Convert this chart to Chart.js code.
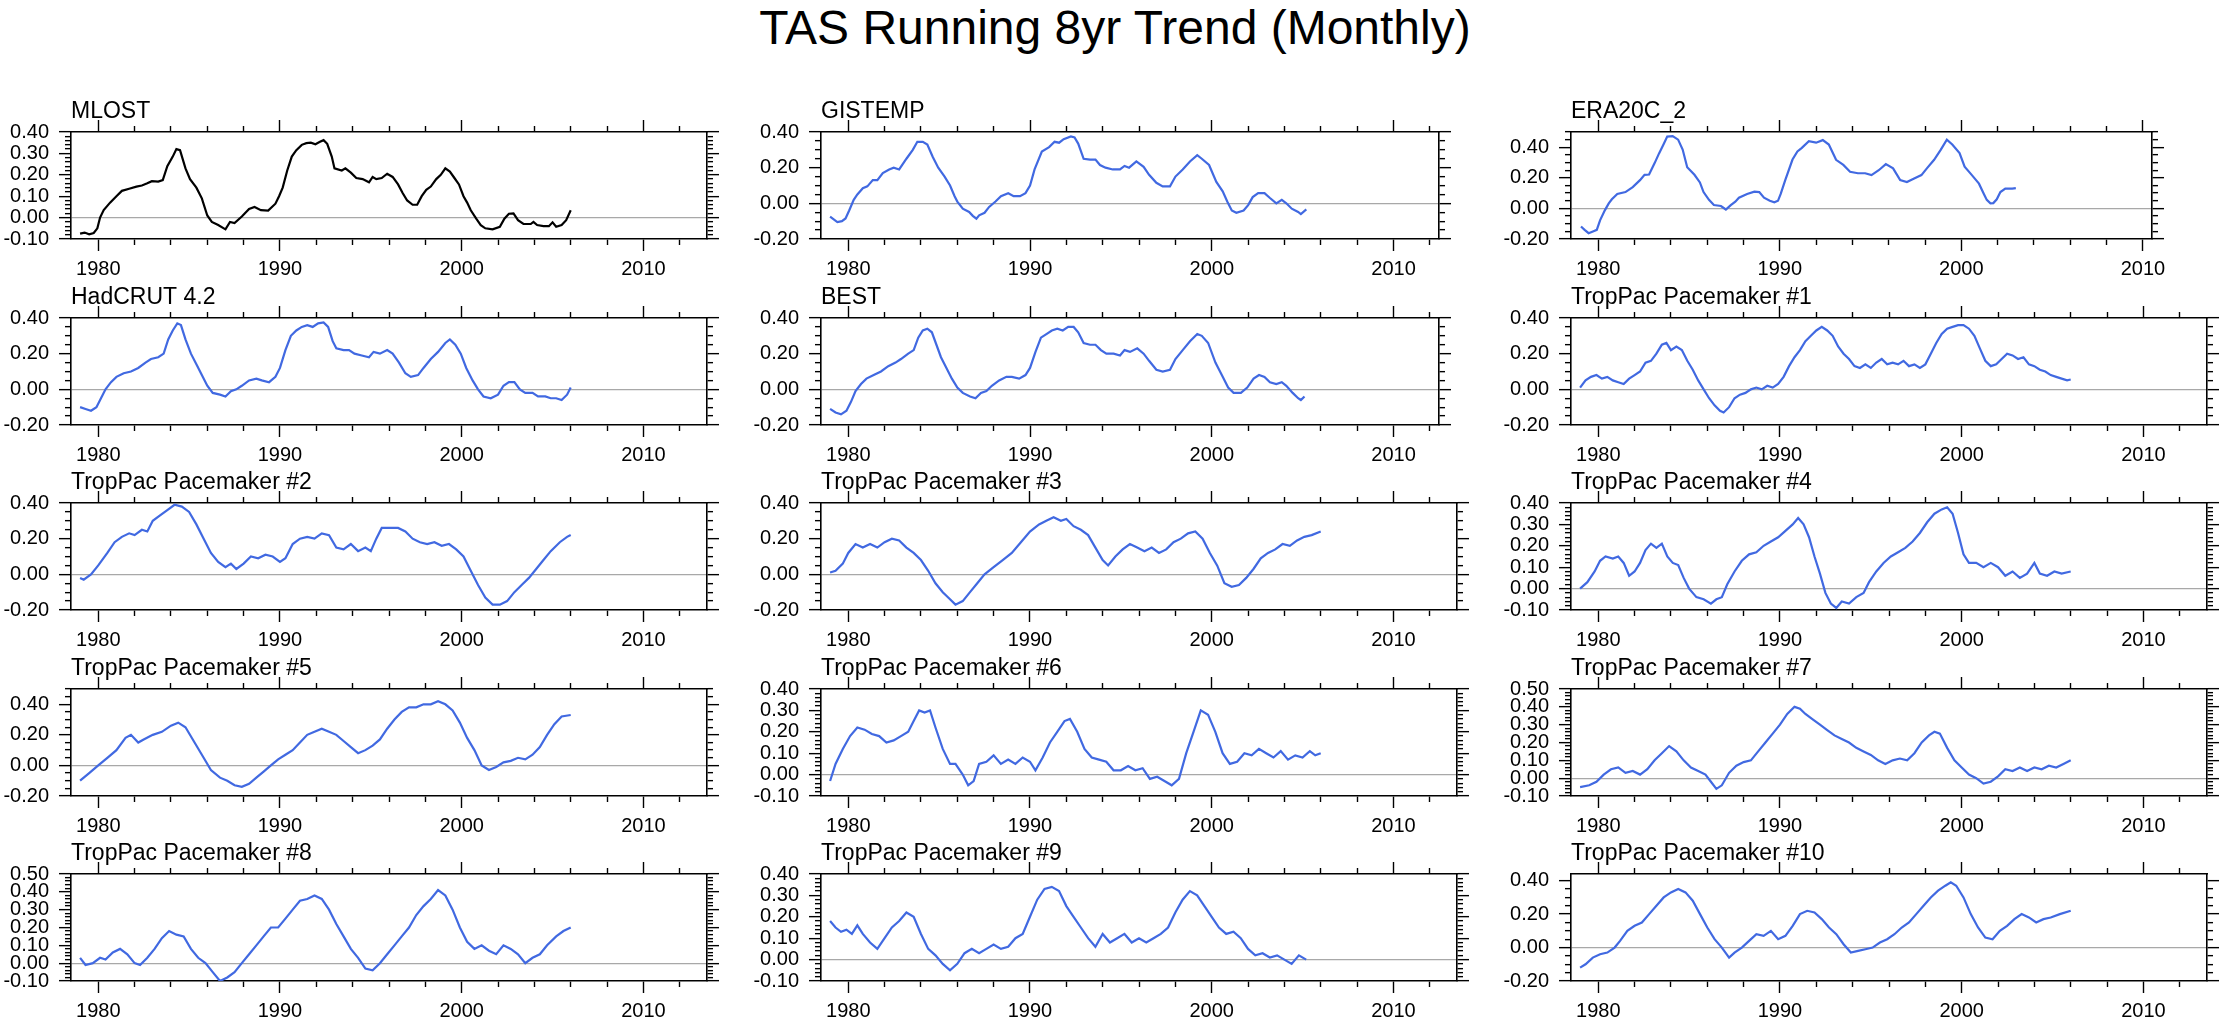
<!DOCTYPE html>
<html><head><meta charset="utf-8">
<script src="https://cdn.jsdelivr.net/npm/chart.js@4.4.0/dist/chart.umd.min.js"></script>
<style>
html,body{margin:0;padding:0;background:#fff;}
body{width:2230px;height:1024px;position:relative;overflow:hidden;font-family:'Liberation Sans',Arial,sans-serif;}
#title{position:absolute;left:0;top:0;width:2230px;text-align:center;font-size:48px;line-height:56px;color:#000;}
canvas{position:absolute;}
</style></head><body>
<div id="title">TAS Running 8yr Trend (Monthly)</div>
<script>
// ---------------- data (decimal year, trend value) ----------------
const MLOST = [[1979.0,-0.075],[1979.25,-0.07],[1979.5,-0.078],[1979.75,-0.072],[1979.95,-0.05],[1980.1,0.0],[1980.3,0.035],[1980.65,0.07],[1981.0,0.1],[1981.3,0.125],[1981.7,0.135],[1982.1,0.145],[1982.4,0.15],[1982.7,0.16],[1982.95,0.17],[1983.3,0.168],[1983.55,0.175],[1983.8,0.24],[1984.1,0.285],[1984.3,0.32],[1984.5,0.315],[1984.8,0.23],[1985.05,0.18],[1985.4,0.14],[1985.7,0.09],[1986.0,0.01],[1986.25,-0.02],[1986.6,-0.035],[1987.0,-0.055],[1987.25,-0.02],[1987.5,-0.025],[1987.9,0.005],[1988.3,0.04],[1988.6,0.05],[1988.95,0.035],[1989.35,0.033],[1989.75,0.065],[1989.95,0.1],[1990.15,0.14],[1990.4,0.22],[1990.65,0.285],[1990.9,0.315],[1991.2,0.34],[1991.45,0.348],[1991.7,0.35],[1991.95,0.343],[1992.2,0.354],[1992.4,0.362],[1992.6,0.345],[1992.85,0.285],[1993.0,0.23],[1993.4,0.22],[1993.6,0.23],[1993.9,0.21],[1994.2,0.185],[1994.55,0.18],[1994.9,0.165],[1995.1,0.19],[1995.3,0.18],[1995.6,0.185],[1995.9,0.205],[1996.2,0.19],[1996.5,0.155],[1996.75,0.115],[1997.0,0.08],[1997.3,0.06],[1997.55,0.06],[1997.8,0.1],[1998.05,0.13],[1998.3,0.145],[1998.6,0.18],[1998.85,0.2],[1999.1,0.23],[1999.35,0.215],[1999.6,0.185],[1999.85,0.155],[2000.1,0.1],[2000.3,0.07],[2000.5,0.034],[2000.8,-0.005],[2001.05,-0.035],[2001.3,-0.05],[2001.7,-0.055],[2002.1,-0.043],[2002.35,-0.005],[2002.6,0.018],[2002.85,0.02],[2003.1,-0.012],[2003.4,-0.03],[2003.8,-0.03],[2003.95,-0.02],[2004.15,-0.035],[2004.5,-0.04],[2004.8,-0.04],[2005.0,-0.022],[2005.2,-0.043],[2005.5,-0.035],[2005.75,-0.012],[2006.0,0.034]];
const GISTEMP = [[1979.0,-0.075],[1979.2,-0.09],[1979.4,-0.105],[1979.65,-0.1],[1979.85,-0.085],[1980.05,-0.04],[1980.3,0.02],[1980.5,0.05],[1980.8,0.085],[1981.05,0.095],[1981.35,0.13],[1981.6,0.13],[1981.9,0.17],[1982.25,0.19],[1982.5,0.2],[1982.8,0.19],[1983.2,0.25],[1983.55,0.3],[1983.8,0.345],[1984.1,0.345],[1984.35,0.33],[1984.65,0.26],[1984.95,0.2],[1985.3,0.15],[1985.6,0.1],[1985.85,0.04],[1986.0,0.01],[1986.3,-0.03],[1986.65,-0.048],[1986.85,-0.07],[1987.05,-0.086],[1987.2,-0.067],[1987.5,-0.053],[1987.75,-0.02],[1988.1,0.01],[1988.4,0.04],[1988.8,0.057],[1989.1,0.04],[1989.45,0.04],[1989.75,0.057],[1990.0,0.1],[1990.25,0.19],[1990.65,0.29],[1991.05,0.315],[1991.35,0.345],[1991.6,0.34],[1991.85,0.36],[1992.25,0.375],[1992.45,0.37],[1992.65,0.335],[1992.95,0.25],[1993.3,0.245],[1993.6,0.245],[1993.85,0.215],[1994.15,0.2],[1994.55,0.19],[1994.95,0.19],[1995.2,0.21],[1995.45,0.2],[1995.85,0.235],[1996.25,0.205],[1996.55,0.16],[1996.95,0.115],[1997.3,0.095],[1997.7,0.095],[1998.0,0.15],[1998.4,0.19],[1998.8,0.235],[1999.2,0.27],[1999.45,0.25],[1999.85,0.215],[2000.25,0.12],[2000.6,0.067],[2000.85,0.01],[2001.1,-0.04],[2001.35,-0.053],[2001.75,-0.04],[2002.0,-0.01],[2002.25,0.035],[2002.55,0.057],[2002.9,0.057],[2003.2,0.03],[2003.55,0.0],[2003.85,0.02],[2004.1,0.0],[2004.4,-0.03],[2004.75,-0.048],[2004.9,-0.06],[2005.2,-0.034]];
const ERA20C_2 = [[1979.05,-0.118],[1979.25,-0.14],[1979.47,-0.162],[1979.74,-0.149],[1979.92,-0.14],[1980.1,-0.078],[1980.37,-0.011],[1980.58,0.033],[1980.75,0.06],[1981.05,0.095],[1981.5,0.107],[1981.9,0.14],[1982.3,0.185],[1982.55,0.22],[1982.8,0.222],[1983.1,0.295],[1983.35,0.36],[1983.6,0.42],[1983.8,0.47],[1984.1,0.473],[1984.4,0.45],[1984.65,0.385],[1984.9,0.27],[1985.3,0.22],[1985.6,0.17],[1985.8,0.107],[1986.1,0.056],[1986.37,0.022],[1986.76,0.016],[1987.03,-0.007],[1987.3,0.022],[1987.55,0.044],[1987.75,0.07],[1988.2,0.095],[1988.6,0.11],[1988.87,0.107],[1989.13,0.07],[1989.45,0.05],[1989.7,0.04],[1989.9,0.05],[1990.05,0.095],[1990.3,0.185],[1990.7,0.32],[1990.97,0.373],[1991.2,0.395],[1991.6,0.44],[1992.0,0.43],[1992.37,0.447],[1992.7,0.418],[1993.1,0.318],[1993.5,0.285],[1993.87,0.24],[1994.3,0.23],[1994.7,0.23],[1995.05,0.218],[1995.45,0.25],[1995.84,0.29],[1996.24,0.262],[1996.63,0.185],[1997.0,0.173],[1997.4,0.196],[1997.8,0.218],[1998.1,0.262],[1998.5,0.318],[1998.87,0.385],[1999.2,0.45],[1999.5,0.418],[1999.9,0.362],[2000.18,0.273],[2000.58,0.218],[2000.97,0.162],[2001.24,0.095],[2001.4,0.056],[2001.6,0.033],[2001.76,0.035],[2001.95,0.06],[2002.15,0.107],[2002.42,0.13],[2002.8,0.13],[2003.0,0.133]];
const HADCRUT42 = [[1979.0,-0.1],[1979.3,-0.11],[1979.6,-0.12],[1979.9,-0.1],[1980.15,-0.05],[1980.4,0.0],[1980.7,0.04],[1981.0,0.07],[1981.4,0.09],[1981.8,0.1],[1982.2,0.12],[1982.6,0.15],[1982.9,0.17],[1983.3,0.18],[1983.6,0.2],[1983.85,0.28],[1984.1,0.33],[1984.35,0.37],[1984.55,0.36],[1984.8,0.28],[1985.1,0.2],[1985.4,0.14],[1985.7,0.08],[1986.0,0.02],[1986.3,-0.02],[1986.7,-0.03],[1987.0,-0.04],[1987.3,-0.01],[1987.6,0.0],[1987.9,0.02],[1988.3,0.05],[1988.7,0.06],[1989.0,0.05],[1989.4,0.04],[1989.75,0.07],[1990.0,0.12],[1990.3,0.22],[1990.6,0.3],[1990.9,0.33],[1991.2,0.35],[1991.5,0.36],[1991.8,0.35],[1992.1,0.37],[1992.4,0.375],[1992.65,0.35],[1992.9,0.27],[1993.1,0.23],[1993.5,0.22],[1993.8,0.22],[1994.1,0.2],[1994.5,0.19],[1994.9,0.18],[1995.15,0.21],[1995.5,0.2],[1995.9,0.22],[1996.2,0.2],[1996.55,0.15],[1996.9,0.09],[1997.2,0.07],[1997.6,0.08],[1997.9,0.12],[1998.3,0.17],[1998.7,0.21],[1999.1,0.26],[1999.35,0.28],[1999.65,0.25],[1999.95,0.2],[2000.25,0.12],[2000.6,0.05],[2000.9,0.0],[2001.2,-0.04],[2001.6,-0.05],[2002.0,-0.03],[2002.3,0.02],[2002.6,0.04],[2002.9,0.04],[2003.2,0.0],[2003.5,-0.02],[2003.9,-0.02],[2004.2,-0.04],[2004.6,-0.04],[2004.9,-0.05],[2005.2,-0.05],[2005.5,-0.06],[2005.8,-0.03],[2006.0,0.01]];
const BEST = [[1979.0,-0.11],[1979.3,-0.13],[1979.6,-0.14],[1979.9,-0.12],[1980.15,-0.07],[1980.4,-0.01],[1980.7,0.03],[1981.0,0.06],[1981.4,0.08],[1981.8,0.1],[1982.2,0.13],[1982.6,0.15],[1982.9,0.17],[1983.3,0.2],[1983.6,0.22],[1983.85,0.29],[1984.1,0.33],[1984.35,0.34],[1984.6,0.32],[1984.85,0.25],[1985.1,0.18],[1985.4,0.12],[1985.7,0.06],[1986.0,0.01],[1986.3,-0.02],[1986.7,-0.04],[1987.0,-0.05],[1987.3,-0.02],[1987.6,-0.01],[1987.9,0.02],[1988.3,0.05],[1988.7,0.07],[1989.0,0.07],[1989.4,0.06],[1989.75,0.08],[1990.0,0.12],[1990.3,0.21],[1990.6,0.29],[1990.9,0.31],[1991.2,0.33],[1991.5,0.34],[1991.8,0.33],[1992.1,0.35],[1992.4,0.35],[1992.65,0.32],[1992.95,0.26],[1993.3,0.25],[1993.6,0.25],[1993.9,0.22],[1994.2,0.2],[1994.6,0.2],[1994.95,0.19],[1995.2,0.22],[1995.5,0.21],[1995.9,0.23],[1996.25,0.2],[1996.55,0.16],[1996.95,0.11],[1997.3,0.1],[1997.7,0.11],[1998.0,0.17],[1998.4,0.22],[1998.8,0.27],[1999.2,0.31],[1999.45,0.3],[1999.8,0.26],[2000.2,0.15],[2000.6,0.07],[2000.9,0.01],[2001.2,-0.02],[2001.6,-0.02],[2001.95,0.01],[2002.3,0.06],[2002.6,0.08],[2002.9,0.07],[2003.2,0.04],[2003.55,0.03],[2003.85,0.04],[2004.1,0.02],[2004.45,-0.02],[2004.75,-0.05],[2004.9,-0.06],[2005.1,-0.04]];
const TROPPAC1 = [[1979.0,0.01],[1979.3,0.05],[1979.6,0.07],[1979.9,0.08],[1980.2,0.06],[1980.5,0.07],[1980.8,0.05],[1981.1,0.04],[1981.4,0.03],[1981.7,0.06],[1982.0,0.08],[1982.3,0.1],[1982.6,0.15],[1982.9,0.16],[1983.2,0.2],[1983.5,0.25],[1983.75,0.26],[1984.0,0.22],[1984.3,0.24],[1984.6,0.22],[1984.9,0.16],[1985.2,0.11],[1985.5,0.05],[1985.8,0.0],[1986.1,-0.05],[1986.4,-0.09],[1986.7,-0.12],[1986.9,-0.13],[1987.2,-0.1],[1987.5,-0.05],[1987.8,-0.03],[1988.1,-0.02],[1988.4,0.0],[1988.7,0.01],[1989.0,0.0],[1989.3,0.02],[1989.6,0.01],[1989.9,0.03],[1990.2,0.07],[1990.5,0.13],[1990.8,0.18],[1991.1,0.22],[1991.4,0.27],[1991.7,0.3],[1992.0,0.33],[1992.3,0.35],[1992.6,0.33],[1992.9,0.3],[1993.2,0.24],[1993.5,0.2],[1993.8,0.17],[1994.1,0.13],[1994.4,0.12],[1994.7,0.14],[1995.0,0.12],[1995.3,0.15],[1995.6,0.17],[1995.9,0.14],[1996.2,0.15],[1996.5,0.14],[1996.8,0.16],[1997.1,0.13],[1997.4,0.14],[1997.7,0.12],[1998.0,0.14],[1998.3,0.2],[1998.6,0.26],[1998.9,0.31],[1999.2,0.34],[1999.5,0.35],[1999.8,0.36],[2000.1,0.36],[2000.4,0.34],[2000.7,0.3],[2001.0,0.23],[2001.3,0.16],[2001.6,0.13],[2001.9,0.14],[2002.2,0.17],[2002.5,0.2],[2002.8,0.19],[2003.1,0.17],[2003.4,0.18],[2003.7,0.14],[2004.0,0.13],[2004.3,0.11],[2004.6,0.1],[2004.9,0.08],[2005.2,0.07],[2005.5,0.06],[2005.8,0.05],[2006.0,0.055]];
const TROPPAC2 = [[1979.0,-0.02],[1979.2,-0.03],[1979.6,0.0],[1980.0,0.05],[1980.5,0.12],[1980.9,0.18],[1981.3,0.21],[1981.7,0.23],[1982.0,0.22],[1982.4,0.25],[1982.7,0.24],[1983.0,0.3],[1983.4,0.33],[1983.8,0.36],[1984.2,0.39],[1984.6,0.38],[1985.0,0.35],[1985.4,0.28],[1985.8,0.2],[1986.2,0.12],[1986.6,0.07],[1987.0,0.04],[1987.3,0.06],[1987.6,0.03],[1988.0,0.06],[1988.4,0.1],[1988.8,0.09],[1989.2,0.11],[1989.6,0.1],[1990.0,0.07],[1990.3,0.09],[1990.7,0.17],[1991.1,0.2],[1991.5,0.21],[1991.9,0.2],[1992.3,0.23],[1992.7,0.22],[1993.1,0.15],[1993.5,0.14],[1993.9,0.17],[1994.3,0.13],[1994.7,0.15],[1995.0,0.13],[1995.3,0.2],[1995.6,0.26],[1996.0,0.26],[1996.5,0.26],[1996.9,0.24],[1997.3,0.2],[1997.7,0.18],[1998.1,0.17],[1998.5,0.18],[1998.9,0.16],[1999.3,0.17],[1999.7,0.14],[2000.1,0.1],[2000.5,0.02],[2000.9,-0.06],[2001.3,-0.13],[2001.7,-0.17],[2002.1,-0.17],[2002.5,-0.15],[2002.9,-0.1],[2003.3,-0.06],[2003.7,-0.02],[2004.1,0.03],[2004.5,0.08],[2004.9,0.13],[2005.4,0.18],[2005.8,0.21],[2006.0,0.22]];
const TROPPAC3 = [[1979.0,0.01],[1979.3,0.02],[1979.7,0.06],[1980.0,0.12],[1980.4,0.17],[1980.8,0.15],[1981.2,0.17],[1981.6,0.15],[1982.0,0.18],[1982.4,0.2],[1982.8,0.19],[1983.2,0.15],[1983.6,0.12],[1984.0,0.08],[1984.4,0.02],[1984.8,-0.05],[1985.2,-0.1],[1985.6,-0.14],[1985.9,-0.17],[1986.3,-0.15],[1986.7,-0.1],[1987.1,-0.05],[1987.5,0.0],[1988.0,0.04],[1988.5,0.08],[1989.0,0.12],[1989.5,0.18],[1990.0,0.24],[1990.5,0.28],[1990.9,0.3],[1991.3,0.32],[1991.7,0.3],[1992.0,0.31],[1992.4,0.27],[1992.8,0.25],[1993.2,0.22],[1993.6,0.15],[1994.0,0.08],[1994.3,0.05],[1994.7,0.1],[1995.1,0.14],[1995.5,0.17],[1995.9,0.15],[1996.3,0.13],[1996.7,0.15],[1997.1,0.12],[1997.5,0.14],[1997.9,0.18],[1998.3,0.2],[1998.7,0.23],[1999.1,0.24],[1999.5,0.2],[1999.9,0.12],[2000.3,0.05],[2000.7,-0.05],[2001.1,-0.07],[2001.5,-0.06],[2001.9,-0.02],[2002.3,0.03],[2002.7,0.09],[2003.1,0.12],[2003.5,0.14],[2003.9,0.17],[2004.3,0.16],[2004.7,0.19],[2005.1,0.21],[2005.5,0.22],[2006.0,0.24]];
const TROPPAC4 = [[1979.0,0.0],[1979.4,0.03],[1979.8,0.08],[1980.1,0.13],[1980.4,0.15],[1980.8,0.14],[1981.1,0.15],[1981.4,0.12],[1981.7,0.06],[1982.0,0.08],[1982.3,0.12],[1982.6,0.18],[1982.9,0.21],[1983.2,0.19],[1983.5,0.21],[1983.8,0.15],[1984.1,0.12],[1984.4,0.11],[1984.7,0.05],[1985.0,0.0],[1985.4,-0.04],[1985.8,-0.05],[1986.2,-0.07],[1986.5,-0.05],[1986.8,-0.04],[1987.1,0.02],[1987.5,0.08],[1987.9,0.13],[1988.3,0.16],[1988.7,0.17],[1989.1,0.2],[1989.5,0.22],[1989.9,0.24],[1990.3,0.27],[1990.7,0.3],[1991.0,0.33],[1991.3,0.3],[1991.6,0.24],[1991.9,0.15],[1992.2,0.07],[1992.5,-0.02],[1992.8,-0.07],[1993.1,-0.09],[1993.4,-0.06],[1993.8,-0.07],[1994.2,-0.04],[1994.6,-0.02],[1994.9,0.03],[1995.3,0.08],[1995.7,0.12],[1996.1,0.15],[1996.5,0.17],[1996.9,0.19],[1997.3,0.22],[1997.7,0.26],[1998.1,0.31],[1998.5,0.35],[1998.9,0.37],[1999.2,0.38],[1999.5,0.35],[1999.8,0.26],[2000.1,0.16],[2000.4,0.12],[2000.8,0.12],[2001.2,0.1],[2001.6,0.12],[2002.0,0.1],[2002.4,0.06],[2002.8,0.08],[2003.2,0.05],[2003.6,0.07],[2004.0,0.12],[2004.3,0.07],[2004.7,0.06],[2005.1,0.08],[2005.5,0.07],[2006.0,0.08]];
const TROPPAC5 = [[1979.0,-0.1],[1979.5,-0.05],[1980.0,0.0],[1980.5,0.05],[1981.0,0.1],[1981.5,0.18],[1981.8,0.2],[1982.2,0.15],[1982.5,0.17],[1983.0,0.2],[1983.5,0.22],[1984.0,0.26],[1984.4,0.28],[1984.8,0.25],[1985.3,0.15],[1985.8,0.05],[1986.2,-0.03],[1986.7,-0.08],[1987.1,-0.1],[1987.5,-0.13],[1987.9,-0.14],[1988.3,-0.12],[1988.7,-0.08],[1989.1,-0.04],[1989.5,0.0],[1989.9,0.04],[1990.3,0.07],[1990.7,0.1],[1991.1,0.15],[1991.5,0.2],[1991.9,0.22],[1992.3,0.24],[1992.7,0.22],[1993.1,0.2],[1993.5,0.16],[1993.9,0.12],[1994.3,0.08],[1994.7,0.1],[1995.1,0.13],[1995.5,0.17],[1995.9,0.24],[1996.3,0.3],[1996.7,0.35],[1997.1,0.38],[1997.5,0.38],[1997.9,0.4],[1998.3,0.4],[1998.7,0.42],[1999.1,0.4],[1999.5,0.36],[1999.9,0.28],[2000.3,0.18],[2000.7,0.1],[2001.1,0.0],[2001.5,-0.03],[2001.9,-0.01],[2002.3,0.02],[2002.7,0.03],[2003.1,0.05],[2003.5,0.04],[2003.9,0.07],[2004.3,0.12],[2004.7,0.2],[2005.1,0.27],[2005.5,0.32],[2006.0,0.33]];
const TROPPAC6 = [[1979.0,-0.03],[1979.3,0.05],[1979.7,0.12],[1980.1,0.18],[1980.5,0.22],[1980.9,0.21],[1981.3,0.19],[1981.7,0.18],[1982.1,0.15],[1982.5,0.16],[1982.9,0.18],[1983.3,0.2],[1983.6,0.25],[1983.9,0.3],[1984.2,0.29],[1984.5,0.3],[1984.8,0.22],[1985.2,0.12],[1985.6,0.05],[1985.9,0.05],[1986.3,0.0],[1986.6,-0.05],[1986.9,-0.03],[1987.2,0.05],[1987.6,0.06],[1988.0,0.09],[1988.4,0.05],[1988.8,0.07],[1989.2,0.05],[1989.6,0.08],[1990.0,0.06],[1990.3,0.02],[1990.7,0.08],[1991.1,0.15],[1991.5,0.2],[1991.9,0.25],[1992.2,0.26],[1992.6,0.2],[1993.0,0.12],[1993.4,0.08],[1993.8,0.07],[1994.2,0.06],[1994.6,0.02],[1995.0,0.02],[1995.4,0.04],[1995.8,0.02],[1996.2,0.03],[1996.6,-0.02],[1997.0,-0.01],[1997.4,-0.03],[1997.8,-0.05],[1998.2,-0.02],[1998.6,0.1],[1999.0,0.2],[1999.4,0.3],[1999.8,0.28],[2000.2,0.2],[2000.6,0.1],[2001.0,0.05],[2001.4,0.06],[2001.8,0.1],[2002.2,0.09],[2002.6,0.12],[2003.0,0.1],[2003.4,0.08],[2003.8,0.11],[2004.2,0.07],[2004.6,0.09],[2005.0,0.08],[2005.4,0.11],[2005.7,0.09],[2006.0,0.1]];
const TROPPAC7 = [[1979.0,-0.05],[1979.5,-0.04],[1979.9,-0.02],[1980.3,0.02],[1980.7,0.05],[1981.1,0.06],[1981.5,0.03],[1981.9,0.04],[1982.3,0.02],[1982.7,0.05],[1983.1,0.1],[1983.5,0.14],[1983.9,0.18],[1984.3,0.15],[1984.7,0.1],[1985.1,0.06],[1985.5,0.04],[1985.9,0.02],[1986.2,-0.02],[1986.5,-0.06],[1986.8,-0.04],[1987.2,0.03],[1987.6,0.07],[1988.0,0.09],[1988.4,0.1],[1988.8,0.15],[1989.2,0.2],[1989.6,0.25],[1990.0,0.3],[1990.4,0.36],[1990.8,0.4],[1991.1,0.39],[1991.4,0.36],[1991.8,0.33],[1992.2,0.3],[1992.6,0.27],[1993.0,0.24],[1993.4,0.22],[1993.8,0.2],[1994.2,0.17],[1994.6,0.15],[1995.0,0.13],[1995.4,0.1],[1995.8,0.08],[1996.2,0.1],[1996.6,0.11],[1997.0,0.1],[1997.4,0.14],[1997.8,0.2],[1998.2,0.24],[1998.5,0.26],[1998.8,0.25],[1999.2,0.17],[1999.6,0.1],[2000.0,0.06],[2000.4,0.02],[2000.8,0.0],[2001.2,-0.03],[2001.6,-0.02],[2002.0,0.01],[2002.4,0.05],[2002.8,0.04],[2003.2,0.06],[2003.6,0.04],[2004.0,0.06],[2004.4,0.05],[2004.8,0.07],[2005.2,0.06],[2005.6,0.08],[2006.0,0.1]];
const TROPPAC8 = [[1979.0,0.03],[1979.3,-0.01],[1979.7,0.0],[1980.1,0.03],[1980.4,0.02],[1980.8,0.06],[1981.2,0.08],[1981.6,0.05],[1982.0,0.0],[1982.3,-0.01],[1982.7,0.03],[1983.1,0.08],[1983.5,0.14],[1983.9,0.18],[1984.3,0.16],[1984.7,0.15],[1985.1,0.08],[1985.5,0.03],[1985.9,0.0],[1986.3,-0.05],[1986.7,-0.1],[1987.1,-0.08],[1987.5,-0.05],[1987.9,0.0],[1988.3,0.05],[1988.7,0.1],[1989.1,0.15],[1989.5,0.2],[1989.9,0.2],[1990.3,0.25],[1990.7,0.3],[1991.1,0.35],[1991.5,0.36],[1991.9,0.38],[1992.3,0.36],[1992.7,0.3],[1993.1,0.22],[1993.5,0.15],[1993.9,0.08],[1994.3,0.03],[1994.7,-0.03],[1995.1,-0.04],[1995.5,0.0],[1995.9,0.05],[1996.3,0.1],[1996.7,0.15],[1997.1,0.2],[1997.5,0.27],[1997.9,0.32],[1998.3,0.36],[1998.7,0.41],[1999.1,0.38],[1999.5,0.3],[1999.9,0.2],[2000.3,0.12],[2000.7,0.08],[2001.1,0.1],[2001.5,0.07],[2001.9,0.05],[2002.3,0.1],[2002.7,0.08],[2003.1,0.05],[2003.5,0.0],[2003.9,0.03],[2004.3,0.05],[2004.7,0.1],[2005.2,0.15],[2005.6,0.18],[2006.0,0.2]];
const TROPPAC9 = [[1979.0,0.18],[1979.3,0.15],[1979.6,0.13],[1979.9,0.14],[1980.2,0.12],[1980.5,0.16],[1980.8,0.12],[1981.2,0.08],[1981.6,0.05],[1982.0,0.1],[1982.4,0.15],[1982.8,0.18],[1983.2,0.22],[1983.6,0.2],[1984.0,0.12],[1984.4,0.05],[1984.8,0.02],[1985.2,-0.02],[1985.6,-0.05],[1986.0,-0.02],[1986.4,0.03],[1986.8,0.05],[1987.2,0.03],[1987.6,0.05],[1988.0,0.07],[1988.4,0.05],[1988.8,0.06],[1989.2,0.1],[1989.6,0.12],[1990.0,0.2],[1990.4,0.28],[1990.8,0.33],[1991.2,0.34],[1991.6,0.32],[1992.0,0.25],[1992.4,0.2],[1992.8,0.15],[1993.2,0.1],[1993.6,0.06],[1994.0,0.12],[1994.4,0.08],[1994.8,0.1],[1995.2,0.12],[1995.6,0.08],[1996.0,0.1],[1996.4,0.08],[1996.8,0.1],[1997.2,0.12],[1997.6,0.15],[1998.0,0.22],[1998.4,0.28],[1998.8,0.32],[1999.2,0.3],[1999.6,0.25],[2000.0,0.2],[2000.4,0.15],[2000.8,0.12],[2001.2,0.13],[2001.6,0.1],[2002.0,0.05],[2002.4,0.02],[2002.8,0.03],[2003.2,0.01],[2003.6,0.02],[2004.0,0.0],[2004.4,-0.02],[2004.8,0.02],[2005.2,0.0]];
const TROPPAC10 = [[1979.0,-0.12],[1979.3,-0.1],[1979.7,-0.06],[1980.1,-0.04],[1980.5,-0.03],[1980.9,0.0],[1981.2,0.04],[1981.6,0.1],[1982.0,0.13],[1982.4,0.15],[1982.8,0.2],[1983.2,0.25],[1983.6,0.3],[1984.0,0.33],[1984.4,0.35],[1984.8,0.33],[1985.2,0.28],[1985.6,0.2],[1986.0,0.12],[1986.4,0.05],[1986.8,0.0],[1987.2,-0.06],[1987.5,-0.03],[1987.9,0.0],[1988.3,0.04],[1988.7,0.08],[1989.1,0.07],[1989.5,0.1],[1989.9,0.05],[1990.3,0.07],[1990.7,0.13],[1991.1,0.2],[1991.5,0.22],[1991.9,0.21],[1992.3,0.17],[1992.7,0.12],[1993.1,0.08],[1993.5,0.02],[1993.9,-0.03],[1994.3,-0.02],[1994.7,-0.01],[1995.1,0.0],[1995.5,0.03],[1995.9,0.05],[1996.3,0.08],[1996.7,0.12],[1997.1,0.15],[1997.5,0.2],[1997.9,0.25],[1998.3,0.3],[1998.7,0.34],[1999.1,0.37],[1999.4,0.39],[1999.7,0.37],[2000.1,0.3],[2000.5,0.2],[2000.9,0.12],[2001.3,0.06],[2001.7,0.05],[2002.1,0.1],[2002.5,0.13],[2002.9,0.17],[2003.3,0.2],[2003.7,0.18],[2004.1,0.15],[2004.5,0.17],[2004.9,0.18],[2005.4,0.2],[2006.0,0.22]];

// ---------------- panel table ----------------
const ROYAL = '#4169e1';
const panels = [
  {label:'MLOST', data:MLOST, color:'#000000', ymin:-0.1, ymax:0.4, major:0.1, minor:0.02, xmax:2013.5},
  {label:'GISTEMP', data:GISTEMP, color:ROYAL, ymin:-0.2, ymax:0.4, major:0.2, minor:0.05, xmax:2012.5},
  {label:'ERA20C_2', data:ERA20C_2, color:ROYAL, ymin:-0.2, ymax:0.5, major:0.2, minor:0.05, xmax:2010.5},
  {label:'HadCRUT 4.2', data:HADCRUT42, color:ROYAL, ymin:-0.2, ymax:0.4, major:0.2, minor:0.05, xmax:2013.5},
  {label:'BEST', data:BEST, color:ROYAL, ymin:-0.2, ymax:0.4, major:0.2, minor:0.05, xmax:2012.5},
  {label:'TropPac Pacemaker #1', data:TROPPAC1, color:ROYAL, ymin:-0.2, ymax:0.4, major:0.2, minor:0.05, xmax:2013.5},
  {label:'TropPac Pacemaker #2', data:TROPPAC2, color:ROYAL, ymin:-0.2, ymax:0.4, major:0.2, minor:0.05, xmax:2013.5},
  {label:'TropPac Pacemaker #3', data:TROPPAC3, color:ROYAL, ymin:-0.2, ymax:0.4, major:0.2, minor:0.05, xmax:2013.5},
  {label:'TropPac Pacemaker #4', data:TROPPAC4, color:ROYAL, ymin:-0.1, ymax:0.4, major:0.1, minor:0.02, xmax:2013.5},
  {label:'TropPac Pacemaker #5', data:TROPPAC5, color:ROYAL, ymin:-0.2, ymax:0.5, major:0.2, minor:0.05, xmax:2013.5},
  {label:'TropPac Pacemaker #6', data:TROPPAC6, color:ROYAL, ymin:-0.1, ymax:0.4, major:0.1, minor:0.02, xmax:2013.5},
  {label:'TropPac Pacemaker #7', data:TROPPAC7, color:ROYAL, ymin:-0.1, ymax:0.5, major:0.1, minor:0.02, xmax:2013.5},
  {label:'TropPac Pacemaker #8', data:TROPPAC8, color:ROYAL, ymin:-0.1, ymax:0.5, major:0.1, minor:0.02, xmax:2013.5},
  {label:'TropPac Pacemaker #9', data:TROPPAC9, color:ROYAL, ymin:-0.1, ymax:0.4, major:0.1, minor:0.02, xmax:2013.5},
  {label:'TropPac Pacemaker #10', data:TROPPAC10, color:ROYAL, ymin:-0.2, ymax:0.44, major:0.2, minor:0.05, xmax:2013.5}
];

// ---------------- layout ----------------
const XMIN = 1978.5, PX_PER_YEAR = 18.17;
const COL_LEFT = [71, 821, 1571];
const ROW_TOP0 = 132, ROW_STEP = 185.6, BOX_H = 107;
const PAD_L = 70, PAD_R = 40, PAD_T = 40, PAD_B = 50;
const LABEL_SIZE = 23, LABEL_LH = 0.75;

Chart.defaults.font.family = "'Liberation Sans', Arial, Helvetica, sans-serif";
Chart.defaults.color = '#000';

function tickRange(min, max, step) {
  const out = [];
  const n0 = Math.ceil(min / step - 1e-6), n1 = Math.floor(max / step + 1e-6);
  for (let n = n0; n <= n1; n++) out.push({value: +(n * step).toFixed(6)});
  return out;
}

const TICK_W = 1.4, BORDER_W = 1.6;
function xAxis(p, pos, weight, step, labels, fitH, border) {
  return {
    type: 'linear', position: pos, min: XMIN, max: p.xmax, weight: weight,
    afterBuildTicks: s => { s.ticks = tickRange(1980, p.xmax, step); },
    afterFit: s => { s.height = fitH; },
    ticks: {display: labels, padding: 6, font: {size: 20}, color: '#000', maxRotation: 0, autoSkip: false,
            callback: v => String(Math.round(v))},
    grid: {display: true, drawOnChartArea: false, drawTicks: true, tickLength: 6, color: '#000', tickColor: '#000', tickWidth: TICK_W},
    border: {display: border, color: '#000', width: BORDER_W}
  };
}
function yAxis(p, pos, weight, step, labels, fitW, border, zeroLine) {
  return {
    type: 'linear', position: pos, min: p.ymin, max: p.ymax, weight: weight,
    afterBuildTicks: s => { s.ticks = tickRange(p.ymin, p.ymax, step); },
    afterFit: s => { s.width = fitW; },
    ticks: {display: labels, padding: 10, font: {size: 20}, color: '#000', autoSkip: false,
            callback: v => Number(v).toFixed(2)},
    grid: {display: true, drawOnChartArea: zeroLine, drawTicks: true, tickLength: 6,
           color: ctx => (zeroLine && ctx.tick && Math.abs(ctx.tick.value) < 1e-9) ? '#a8a8a8' : 'rgba(0,0,0,0)',
           lineWidth: 1.3, tickColor: '#000', tickWidth: TICK_W},
    border: {display: border, color: '#000', width: BORDER_W}
  };
}

panels.forEach((p, i) => {
  const r = Math.floor(i / 3), c = i % 3;
  const boxW = Math.round((p.xmax - XMIN) * PX_PER_YEAR);
  const T = Math.round(ROW_TOP0 + r * ROW_STEP);
  const L = COL_LEFT[c];
  const W = PAD_L + boxW + PAD_R, H = PAD_T + BOX_H + PAD_B;
  const cv = document.createElement('canvas');
  cv.width = W; cv.height = H;
  cv.style.left = (L - PAD_L) + 'px'; cv.style.top = (T - PAD_T) + 'px';
  cv.style.width = W + 'px'; cv.style.height = H + 'px';
  document.body.appendChild(cv);
  new Chart(cv, {
    type: 'line',
    data: {datasets: [{
      data: p.data.map(d => ({x: d[0], y: d[1]})),
      borderColor: p.color, borderWidth: 2.2, pointRadius: 0, fill: false, tension: 0,
      xAxisID: 'x', yAxisID: 'y'
    }]},
    options: {
      responsive: false, animation: false, devicePixelRatio: 1,
      layout: {padding: {top: PAD_T - 12 - LABEL_SIZE * LABEL_LH, left: 0, right: 0, bottom: 0}},
      plugins: {
        legend: {display: false}, tooltip: {enabled: false},
        title: {display: true, text: p.label, align: 'start', fullSize: false, color: '#000',
                font: {size: LABEL_SIZE, weight: 'normal', lineHeight: LABEL_LH}, padding: 0}
      },
      scales: {
        x:   xAxis(p, 'bottom', 0, 2, false, 6, true),
        xb:  xAxis(p, 'bottom', 1, 10, true, PAD_B - 6, false),
        xt:  xAxis(p, 'top', 0, 2, false, 6, true),
        xto: xAxis(p, 'top', 1, 10, false, 6, false),
        y:   yAxis(p, 'left', 0, p.minor, false, 6, true, true),
        yl:  yAxis(p, 'left', 1, p.major, true, PAD_L - 6, false, false),
        yr:  yAxis(p, 'right', 0, p.minor, false, 6, true, false),
        yro: yAxis(p, 'right', 1, p.major, false, PAD_R - 6, false, false)
      }
    }
  });
});
</script>
</body></html>
